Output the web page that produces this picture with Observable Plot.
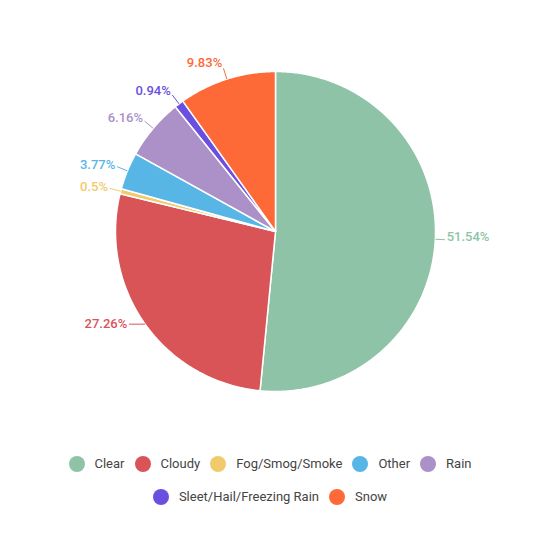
<!DOCTYPE html>
<html>
<head>
<meta charset="utf-8">
<script src="https://cdn.jsdelivr.net/npm/d3@7"></script>
<script src="https://cdn.jsdelivr.net/npm/@observablehq/plot@0.6"></script>
<style>
  html, body { margin: 0; padding: 0; background: #fff; }
  body { width: 550px; height: 538px; font-family: Roboto, "Noto Sans", sans-serif; }
  #chart svg { display: block; }
  #legend { width: 450px; margin: 0 auto; padding-top: 17px; display: flex; flex-wrap: wrap; justify-content: center; }
  .item { display: flex; align-items: center; height: 33px; margin: 0 10px 0 0; font-size: 13px; color: #444; }
  .sw { width: 16px; height: 16px; border-radius: 50%; margin-right: 10px; }
</style>
</head>
<body>
<div id="chart"></div>
<div id="legend"></div>
<script>
const categories = ["Clear", "Cloudy", "Fog/Smog/Smoke", "Other", "Rain", "Sleet/Hail/Freezing Rain", "Snow"];
const shares = [51.54, 27.26, 0.5, 3.77, 6.16, 0.94, 9.83];
const shareLabels = ["51.54%", "27.26%", "0.5%", "3.77%", "6.16%", "0.94%", "9.83%"];
const colors = ["#8ec3a7", "#d95457", "#f1cb6b", "#58b6e7", "#ab91c7", "#6b4fde", "#fd6a37"];

const rows = categories.map((c, i) => ({cat: c, value: shares[i], label: shareLabels[i]}));
const arcs = d3.pie().sort(null).value(d => d.value)(rows);

// polygon outlines of slices in data space (unit circle)
const poly = [];
for (const a of arcs) {
  poly.push({cat: a.data.cat, x: 0, y: 0});
  const n = Math.max(2, Math.ceil((a.endAngle - a.startAngle) / 0.01));
  for (let k = 0; k <= n; k++) {
    const t = a.startAngle + (a.endAngle - a.startAngle) * k / n;
    poly.push({cat: a.data.cat, x: Math.sin(t), y: Math.cos(t)});
  }
  poly.push({cat: a.data.cat, x: 0, y: 0});
}

const lab = arcs.map(a => {
  const m = (a.startAngle + a.endAngle) / 2;
  const s = Math.sin(m), c = Math.cos(m);
  let x2, y2, tx, ty;
  if (c < -0.2) {
    // lower labels: horizontal leader
    x2 = s + Math.sign(s) * 0.1; y2 = c;
    tx = x2 + Math.sign(s) * 0.005; ty = y2;
  } else {
    const r2 = s > 0.9 ? 1.06 : 1.07;
    x2 = s * r2; y2 = c * r2;
    tx = s * (r2 + 0.005);
    ty = c * (r2 + 0.005) + Math.max(0, c) * 0.03 + (Math.abs(c) < 0.2 ? 0.02 : 0);
  }
  return {cat: a.data.cat, label: a.data.label, right: s >= 0, x1: s, y1: c, x2, y2, tx, ty};
});

const color = {domain: categories, range: colors};

const plot = Plot.plot({
  width: 550, height: 430,
  marginLeft: 115, marginRight: 115, marginTop: 71, marginBottom: 39,
  x: {domain: [-1, 1], axis: null},
  y: {domain: [-1, 1], axis: null},
  color,
  style: {fontFamily: "Roboto, sans-serif", background: "transparent"},
  marks: [
    Plot.line(poly, {x: "x", y: "y", z: "cat", fill: "cat", stroke: "#fff", strokeWidth: 1.5, strokeLinejoin: "round"}),
    Plot.link(lab, {x1: "x1", y1: "y1", x2: "x2", y2: "y2", stroke: "cat", strokeWidth: 1}),
    Plot.text(lab.filter(d => d.right), {x: "tx", y: "ty", text: "label", fill: "cat", textAnchor: "start", dx: 1, fontSize: 13, fontWeight: 500}),
    Plot.text(lab.filter(d => !d.right), {x: "tx", y: "ty", text: "label", fill: "cat", textAnchor: "end", dx: -1, fontSize: 13, fontWeight: 500})
  ]
});
document.getElementById("chart").appendChild(plot);

const legend = document.getElementById("legend");
categories.forEach((c, i) => {
  const it = document.createElement("div");
  it.className = "item";
  const sw = document.createElement("span");
  sw.className = "sw";
  sw.style.background = colors[i];
  const tx = document.createElement("span");
  tx.textContent = c;
  it.appendChild(sw); it.appendChild(tx);
  legend.appendChild(it);
});
</script>
</body>
</html>
